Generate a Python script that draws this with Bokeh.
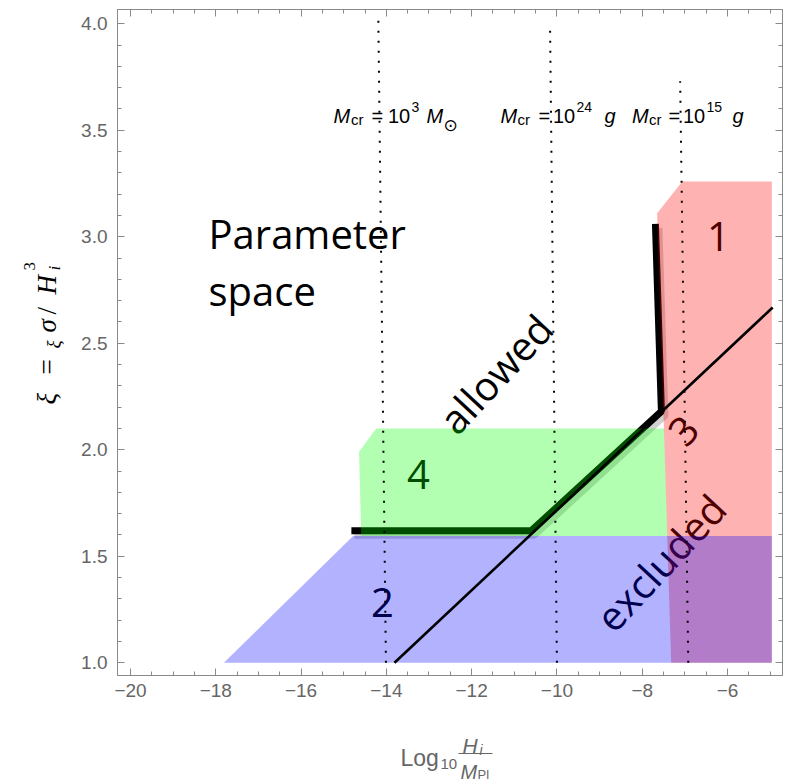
import numpy as np
from bokeh.plotting import figure
from bokeh.layouts import row, column
from bokeh.models import (ColumnDataSource, FixedTicker, LinearAxis, Range1d,
                          CustomJSTickFormatter)
from bokeh.core.properties import value
from bokeh.embed import file_html
from bokeh.resources import INLINE

# ---------------- data ----------------
red_x = [-7.65, -7.06, -4.96, -4.96, -7.32]
red_y = [3.11, 3.26, 3.26, 1.0, 1.0]
green_x = [-14.59, -14.64, -14.24, -7.49, -7.41]
green_y = [1.595, 1.99, 2.10, 2.10, 1.595]
blue_x = [-17.81, -14.78, -4.96, -4.96]
blue_y = [1.0, 1.595, 1.595, 1.0]
boundary_x = [-13.81, -4.94]
boundary_y = [1.0, 2.668]
edge_x = [-14.82, -10.6, -7.55, -7.69]
edge_y = [1.62, 1.62, 2.18, 3.06]
mcr_x_top = [-14.19, -10.16, -7.11]
mcr_y_top = [4.05, 3.97, 3.73]
mcr_x_bot = [-14.01, -10.0, -6.92]
mcr_y_bot = [1.0, 1.0, 1.0]
mcr_exp = ["3", "24", "15"]
x_ticks = [-20, -18, -16, -14, -12, -10, -8, -6]
y_ticks = [1.0, 1.5, 2.0, 2.5, 3.0, 3.5, 4.0]
x_minor = [-20 + 0.5 * i for i in range(31)]
y_minor = [round(1.0 + 0.1 * i, 2) for i in range(31)]

# ---------------- layout ----------------
WL = 72
HM = 720
PAGE_W, PAGE_H = 787, 784
FL, FT, FW, FH = 117, 9, 665, 666
XR = (-20.305, -4.71)
YR = (0.940, 4.067)


def X(px):
    return XR[0] + (px - FL) * (XR[1] - XR[0]) / FW


def Y(py):
    return YR[1] - (py - FT) * (YR[1] - YR[0]) / FH


MW = PAGE_W - WL
p = figure(width=MW, height=HM, x_range=Range1d(*XR), y_range=Range1d(*YR),
           output_backend="svg", toolbar_location=None,
           min_border_left=FL - WL, min_border_right=MW - (FL - WL) - FW,
           min_border_top=FT, min_border_bottom=HM - FT - FH)
p.xgrid.visible = False
p.ygrid.visible = False
p.outline_line_color = "#8a8a8a"
p.border_fill_color = "white"
p.add_layout(LinearAxis(), "above")
p.add_layout(LinearAxis(), "right")

AX = "#8a8a8a"
LAB = "#666666"
for ax in list(p.xaxis) + list(p.yaxis):
    ax.axis_line_color = AX
    ax.major_tick_line_color = AX
    ax.minor_tick_line_color = AX
    ax.major_tick_in = 7
    ax.major_tick_out = 0
    ax.minor_tick_in = 4
    ax.minor_tick_out = 0
    ax.major_label_text_font = "Liberation Sans"
    ax.major_label_text_font_size = "19px"
    ax.major_label_text_color = LAB
for ax in p.xaxis:
    ax.ticker = FixedTicker(ticks=x_ticks, minor_ticks=x_minor)
for ax in p.yaxis:
    ax.ticker = FixedTicker(ticks=y_ticks, minor_ticks=y_minor)

p.below[0].formatter = CustomJSTickFormatter(
    code="return (tick < 0 ? '\\u2212' : '') + Math.abs(tick).toFixed(0);")
p.below[0].major_label_standoff = 8
p.left[0].formatter = CustomJSTickFormatter(code="return tick.toFixed(1);")
p.left[0].major_label_standoff = 10
for ax in (p.above[0], p.right[0]):
    ax.formatter = CustomJSTickFormatter(code="return '';")
    ax.major_label_standoff = 0
    ax.major_label_text_font_size = "0px"


def put(fig, texts, pts, size, font="Open Sans", style="normal", color="black",
        angle=0.0, align="left", baseline="alphabetic", fx=X, fy=Y):
    src = ColumnDataSource(dict(x=[fx(a) for a, b in pts], y=[fy(b) for a, b in pts], t=texts))
    fig.text(x="x", y="y", text="t", source=src, text_font=value(font),
             text_font_size=value(size), text_font_style=style, text_color=color,
             angle=angle, text_align=align, text_baseline=baseline)


sx = (XR[1] - XR[0]) / FW
sy = (YR[1] - YR[0]) / FH
p.line([v + 3 * sx for v in edge_x], [v - 4 * sy for v in edge_y], line_width=8,
       line_color="black", line_alpha=0.18, line_join="round")
p.line(edge_x, edge_y, line_width=7, line_color="black", line_join="bevel")

put(p, ["Parameter", "space"], [(208, 233), (208, 290)], "40px")
ang = np.deg2rad(47)
put(p, ["allowed"], [(495, 373)], "40px", angle=ang, align="center", baseline="middle")
put(p, ["excluded"], [(660, 562)], "40px", angle=ang, align="center", baseline="middle")
put(p, ["3"], [(683, 430)], "40px", angle=ang, align="center", baseline="middle")
put(p, ["1", "4", "2"], [(718, 236), (418, 474), (382, 602)], "40px",
    align="center", baseline="middle")

p.patch(red_x, red_y, fill_color="red", fill_alpha=0.3, line_color=None)
p.patch(green_x, green_y, fill_color="lime", fill_alpha=0.3, line_color=None)
p.patch(blue_x, blue_y, fill_color="blue", fill_alpha=0.3, line_color=None)

p.line(boundary_x, boundary_y, line_width=2.6, line_color="black")
p.segment(x0=mcr_x_bot, y0=mcr_y_bot, x1=mcr_x_top, y1=mcr_y_top, line_color="black",
          line_width=2, line_dash="2 8")

F = "Liberation Sans"
for k, (m, cr, eq, ten, sup, unit) in enumerate([
        (333, 350.5, 371, 387.5, 411, 426),
        (500, 517, 538, 552.5, 576, 604),
        (631.5, 648.5, 668, 682.5, 706, 732)]):
    put(p, ["M"], [(m, 115)], "20px", font=F, style="italic")
    put(p, ["cr"], [(cr, 119)], "15px", font=F)
    put(p, ["=", "10"], [(eq, 115), (ten, 115)], "20px", font=F)
    put(p, [mcr_exp[k]], [(sup, 106)], "14px", font=F)
    put(p, ["M" if k == 0 else "g"], [(unit, 115)], "20px", font=F, style="italic")
    if k == 0:
        put(p, ["\u2299"], [(443, 124)], "17px", font="DejaVu Sans")


def strip(w, h, xr):
    f = figure(width=w, height=h, x_range=Range1d(*xr), y_range=Range1d(h, 0),
               output_backend="svg", toolbar_location=None, min_border=0,
               x_axis_location=None, y_axis_location=None)
    f.xgrid.visible = False
    f.ygrid.visible = False
    f.outline_line_color = None
    return f


# left strip: page pixel coordinates
left = strip(WL, PAGE_H, (0, WL))
S = "Liberation Serif"
r90 = np.pi / 2
ident = (lambda v: v)
for t, px, py, sz, st in [("\u03be", 46, 404, "27px", "italic"),
                          ("=", 46, 374, "27px", "normal"),
                          ("\u03be", 53, 348, "19px", "italic"),
                          ("\u03c3", 46, 332, "27px", "italic"),
                          ("/", 46, 314, "27px", "normal"),
                          ("H", 46, 294, "27px", "italic"),
                          ("3", 29, 270, "17px", "normal"),
                          ("i", 54, 270, "17px", "italic")]:
    put(left, [t], [(px, py)], sz, font=S, style=st, angle=r90, fx=ident, fy=ident)

# bottom strip: its frame is aligned with the main frame, so x is page pixels
bottom = strip(MW, PAGE_H - HM, (FL, FL + FW))
by = (lambda v: v - HM)
for t, px, py, sz, st in [("Log", 400, 757, "23px", "normal"),
                          ("10", 440, 763, "15px", "normal"),
                          ("H", 462, 745, "21px", "italic"),
                          ("i", 479, 749, "14px", "italic"),
                          ("M", 460, 771, "20px", "italic"),
                          ("Pl", 477, 774, "13px", "normal")]:
    put(bottom, [t], [(px, py)], sz, font=F, style=st, color=LAB, fx=ident, fy=by)
bottom.segment(x0=[458], y0=[by(753)], x1=[492], y1=[by(753)],
               line_color=LAB, line_width=1)

layout = row(left, column(p, bottom, spacing=0), spacing=0)
open("out.html", "w").write(file_html(layout, INLINE))
